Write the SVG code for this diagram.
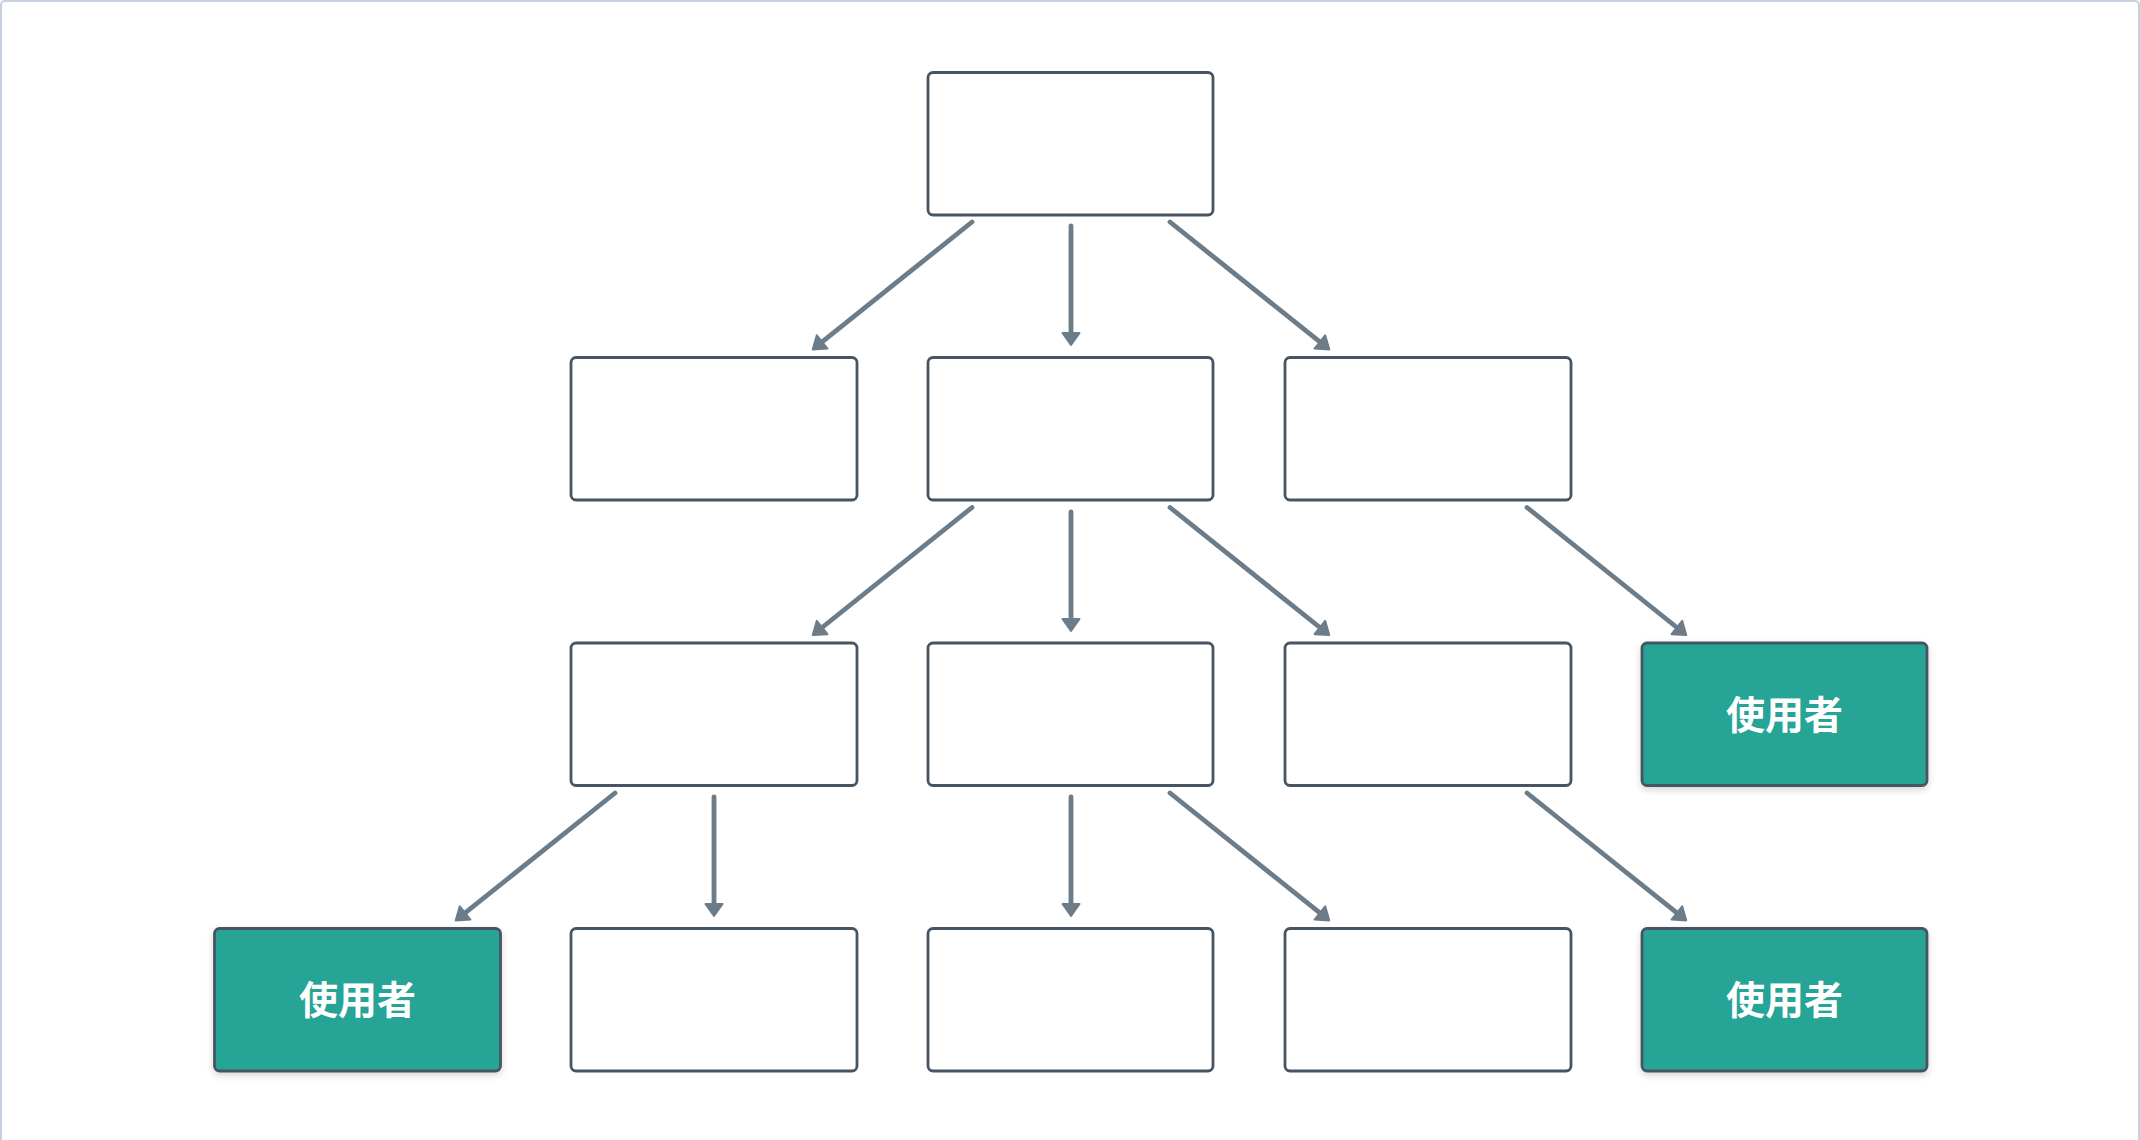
<svg xmlns="http://www.w3.org/2000/svg" width="2140" height="1140" viewBox="0 0 2140 1140">
  <style>
    .box { fill: #ffffff; stroke: #475463; stroke-width: 2.8; }
    .user { fill: #26a495; stroke: #475463; stroke-width: 2.8; filter: url(#shadow); }
    .label { font-family: "Noto Sans CJK TC", "Noto Sans CJK SC", sans-serif; font-weight: 700; font-size: 39px; fill: #ffffff; text-anchor: middle; dominant-baseline: central; }
    .edge { fill: none; stroke: #6c7c89; stroke-width: 4.8; stroke-linecap: round; marker-end: url(#arrow); }
  </style>
  <defs>
    <marker id="arrow" viewBox="-3 -12 20 24" markerWidth="20" markerHeight="24" refX="4" refY="0" markerUnits="userSpaceOnUse" orient="auto">
      <path d="M0,-8.5 L12,0 L0,8.5 Z" fill="#6c7c89" stroke="#6c7c89" stroke-width="2" stroke-linejoin="round"/>
    </marker>
    <filter id="shadow" x="-10%" y="-10%" width="120%" height="130%">
      <feDropShadow dx="0" dy="3" stdDeviation="3.5" flood-color="#000000" flood-opacity="0.16"/>
    </filter>
  </defs>

  <!-- frame -->
  <rect x="1" y="1" width="2138" height="1150" rx="4" fill="#ffffff" stroke="#c5d1dd" stroke-width="2"/>

  <!-- connectors -->
  <g id="connectors">
    <!-- row 0 -> row 1 -->
    <line class="edge" x1="972" y1="222" x2="819" y2="344.4"/>
    <line class="edge" x1="1071" y1="226" x2="1071" y2="337"/>
    <line class="edge" x1="1170" y1="222" x2="1323" y2="344.4"/>
    <!-- row 1 -> row 2 -->
    <line class="edge" x1="972" y1="507.5" x2="819" y2="630"/>
    <line class="edge" x1="1071" y1="512" x2="1071" y2="623"/>
    <line class="edge" x1="1170" y1="507.5" x2="1323" y2="630"/>
    <line class="edge" x1="1527" y1="507.5" x2="1680" y2="630"/>
    <!-- row 2 -> row 3 -->
    <line class="edge" x1="615" y1="793" x2="462" y2="915.4"/>
    <line class="edge" x1="714" y1="797" x2="714" y2="908"/>
    <line class="edge" x1="1071" y1="797" x2="1071" y2="908"/>
    <line class="edge" x1="1170" y1="793" x2="1323" y2="915.4"/>
    <line class="edge" x1="1527" y1="793" x2="1680" y2="915.4"/>
  </g>

  <!-- row 0 -->
  <g id="n0"><rect class="box" x="928" y="72.5" width="285" height="142.5" rx="5"/></g>

  <!-- row 1 -->
  <g id="n1a"><rect class="box" x="571" y="357.5" width="286" height="142.5" rx="5"/></g>
  <g id="n1b"><rect class="box" x="928" y="357.5" width="285" height="142.5" rx="5"/></g>
  <g id="n1c"><rect class="box" x="1285" y="357.5" width="286" height="142.5" rx="5"/></g>

  <!-- row 2 -->
  <g id="n2a"><rect class="box" x="571" y="643" width="286" height="142.5" rx="5"/></g>
  <g id="n2b"><rect class="box" x="928" y="643" width="285" height="142.5" rx="5"/></g>
  <g id="n2c"><rect class="box" x="1285" y="643" width="286" height="142.5" rx="5"/></g>
  <g id="n2d">
    <rect class="user" x="1642" y="643" width="285" height="142.5" rx="5"/>
    <text class="label" x="1784.5" y="711.5">使用者</text>
  </g>

  <!-- row 3 -->
  <g id="n3a">
    <rect class="user" x="214.5" y="928.5" width="286" height="142.5" rx="5"/>
    <text class="label" x="357.5" y="997">使用者</text>
  </g>
  <g id="n3b"><rect class="box" x="571" y="928.5" width="286" height="142.5" rx="5"/></g>
  <g id="n3c"><rect class="box" x="928" y="928.5" width="285" height="142.5" rx="5"/></g>
  <g id="n3d"><rect class="box" x="1285" y="928.5" width="286" height="142.5" rx="5"/></g>
  <g id="n3e">
    <rect class="user" x="1642" y="928.5" width="285" height="142.5" rx="5"/>
    <text class="label" x="1784.5" y="997">使用者</text>
  </g>
</svg>
